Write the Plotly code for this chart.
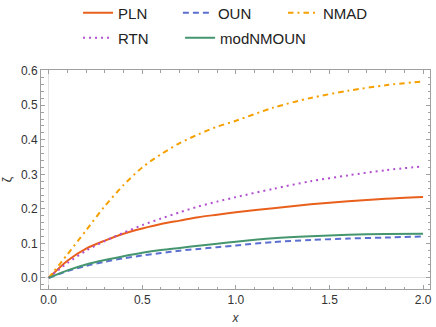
import plotly.graph_objects as go

x = [0, 0.1, 0.2, 0.3, 0.4, 0.5, 0.6, 0.7, 0.8, 0.9, 1.0, 1.2, 1.4, 1.6, 1.8, 2.0]

pln = [0, 0.050, 0.085, 0.108, 0.128, 0.143, 0.156, 0.166, 0.176, 0.183, 0.190, 0.202, 0.213, 0.222, 0.229, 0.234]
oun = [0, 0.020, 0.035, 0.047, 0.057, 0.065, 0.072, 0.079, 0.084, 0.089, 0.094, 0.104, 0.110, 0.114, 0.117, 0.120]
nmad = [0, 0.068, 0.138, 0.208, 0.269, 0.320, 0.358, 0.390, 0.416, 0.438, 0.455, 0.493, 0.521, 0.542, 0.558, 0.569]
rtn = [0, 0.043, 0.079, 0.107, 0.131, 0.153, 0.172, 0.190, 0.207, 0.221, 0.234, 0.258, 0.280, 0.297, 0.312, 0.323]
modnmoun = [0, 0.022, 0.039, 0.052, 0.063, 0.073, 0.081, 0.087, 0.093, 0.099, 0.105, 0.115, 0.121, 0.125, 0.127, 0.128]

# name, values, colour, dash, legend id, legend x (container), legend y (container)
series = [
    ("PLN", pln, "#e8601c", "solid", "legend", 0.179, 0.960),
    ("OUN", oun, "#5b6fd0", "6px,4px", "legend2", 0.408, 0.960),
    ("NMAD", nmad, "#f5a000", "5.5px,4px,2px,4px", "legend3", 0.649, 0.960),
    ("RTN", rtn, "#b24fcf", "2px,4px", "legend4", 0.179, 0.884),
    ("modNMOUN", modnmoun, "#45966f", "solid", "legend5", 0.413, 0.884),
]

legend_common = dict(
    orientation="h", xref="container", yref="container",
    xanchor="left", yanchor="middle",
    font=dict(family="Liberation Sans, Arial", size=15, color="#222222"),
    bgcolor="rgba(0,0,0,0)",
)

fig = go.Figure()
legends = {}
for name, y, color, dash, leg, lx, ly in series:
    fig.add_trace(go.Scatter(
        x=x, y=y, name=name, mode="lines",
        line=dict(color=color, width=2, dash=dash, shape="spline", smoothing=0.8),
        legend=leg,
    ))
    legends[leg] = dict(x=lx, y=ly, **legend_common)

axis_common = dict(
    showline=True, linecolor="#a0a0a0", linewidth=1, mirror="allticks",
    ticks="inside", ticklen=4, tickcolor="#a0a0a0", tickwidth=1,
    showgrid=False, zeroline=True, zerolinecolor="#e0e0e0", zerolinewidth=1,
    tickfont=dict(family="Liberation Sans, Arial", size=12, color="#333333"),
    tickformat=".1f", automargin=False,
)

fig.update_xaxes(
    range=[-0.041, 2.037], tick0=0, dtick=0.5,
    minor=dict(ticks="inside", ticklen=2.5, tickcolor="#a0a0a0", dtick=0.1),
    title=dict(text="<i>x</i>", font=dict(family="Liberation Sans, Arial", size=12, color="#333333"), standoff=7),
    **axis_common,
)
fig.update_yaxes(
    range=[-0.032, 0.602], tick0=0, dtick=0.1,
    minor=dict(ticks="inside", ticklen=2.5, tickcolor="#a0a0a0", dtick=0.02),
    title=dict(text="ζ", font=dict(family="Liberation Sans, Arial", size=12, color="#333333"), standoff=14),
    **axis_common,
)

fig.update_layout(
    width=436, height=327,
    margin=dict(l=41, r=6, t=70, b=38, autoexpand=False),
    paper_bgcolor="white", plot_bgcolor="white",
    showlegend=True,
    **legends,
)

fig.write_html(
    "out.html",
    config={"displayModeBar": False},
    post_script="document.body.style.margin='0';document.body.style.padding='0';",
)
